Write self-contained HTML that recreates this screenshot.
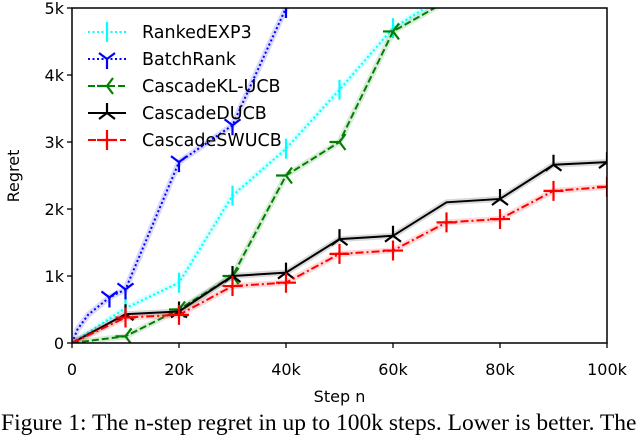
<!DOCTYPE html>
<html><head><meta charset="utf-8">
<style>
body{margin:0;background:#fff;width:640px;height:430px;overflow:hidden;position:relative}
svg{position:absolute;left:0;top:0}
text{font-family:"DejaVu Sans","Liberation Sans",sans-serif}
.cap{position:absolute;left:1px;top:408px;font-family:"Liberation Serif",serif;font-size:23.5px;line-height:30px;white-space:nowrap;color:#000}
</style></head>
<body>
<svg id="chart" width="640" height="430"></svg>
<div class="cap">Figure 1: The n-step regret in up to 100k steps. Lower is better. The</div>
<script>
const xTicks=[0,20,40,60,80,100];
const xTickLabels=["0","20k","40k","60k","80k","100k"];
const yTicks=[0,1,2,3,4,5];
const yTickLabels=["0","1k","2k","3k","4k","5k"];
const seriesNames=["RankedEXP3","BatchRank","CascadeKL-UCB","CascadeDUCB","CascadeSWUCB"];
const rankedX=[0,10,20,30,40,50,60,70];
const rankedY=[0,0.52,0.9,2.2,2.9,3.78,4.7,5.2];
const batchX=[0,1,3,5,7,10,20,30,40,45];
const batchY=[0,0.2,0.42,0.55,0.68,0.8,2.7,3.25,5.0,5.6];
const klX=[0,10,20,30,40,50,60,70];
const klY=[0,0.1,0.5,1.0,2.5,3.0,4.65,5.1];
const ducbX=[0,10,20,30,40,50,60,70,80,90,100];
const ducbY=[0,0.43,0.47,1.0,1.05,1.55,1.6,2.1,2.15,2.66,2.7];
const swX=[0,10,20,30,40,50,60,70,80,90,100];
const swY=[0,0.38,0.42,0.85,0.9,1.33,1.38,1.8,1.85,2.27,2.33];
const rankedM=[10,20,30,40,50,60];
const batchM=[7,10,20,30,40];
const klM=[10,20,30,40,50,60];
const ducbM=[10,20,30,40,50,60,80,90,100];
const swM=[10,20,30,40,50,60,70,80,90,100];

const L=72,R=607,T=8,B=343;
const sx=v=>L+(R-L)*v/100;
const sy=v=>B-(B-T)*v/5;
const NS="http://www.w3.org/2000/svg";
const svg=document.getElementById('chart');
function mk(tag,attrs,parent){const e=document.createElementNS(NS,tag);for(const k in attrs)e.setAttribute(k,attrs[k]);(parent||svg).appendChild(e);return e;}
const defs=mk('defs',{});
const cp=mk('clipPath',{id:'clip'},defs);
mk('rect',{x:L,y:T,width:R-L,height:B-T},cp);
const plot=mk('g',{'clip-path':'url(#clip)'});



const styles=[
 {c:'#00ffff',d:'2,2.5',xs:rankedX,ys:rankedY,m:rankedM,mk:'vbar',name:'rankedexp3'},
 {c:'#0000ff',d:'2,2.5',xs:batchX,ys:batchY,m:batchM,mk:'tri_down',name:'batchrank'},
 {c:'#008000',d:'7,3',xs:klX,ys:klY,m:klM,mk:'tri_left',name:'cascadekl-ucb'},
 {c:'#000000',d:'',xs:ducbX,ys:ducbY,m:ducbM,mk:'tri_up',name:'cascadeducb'},
 {c:'#ff0000',d:'8,3,2,3',xs:swX,ys:swY,m:swM,mk:'plus',name:'cascadeswucb'}
];
function interp(xs,ys,x){for(let i=0;i<xs.length-1;i++){if(x>=xs[i]&&x<=xs[i+1]){return ys[i]+(ys[i+1]-ys[i])*(x-xs[i])/(xs[i+1]-xs[i]);}}return ys[ys.length-1];}
function marker(type,x,y,c,g){
 const s=10;let d='';
 if(type==='vbar')d=`M${x},${y-s}L${x},${y+s}`;
 if(type==='plus')d=`M${x-s},${y}L${x+s},${y}M${x},${y-s}L${x},${y+s}`;
 if(type==='tri_down')d=`M${x},${y}L${x},${y+s}M${x},${y}L${x-8},${y-6}M${x},${y}L${x+8},${y-6}`;
 if(type==='tri_up')d=`M${x},${y}L${x},${y-s}M${x},${y}L${x-8},${y+6}M${x},${y}L${x+8},${y+6}`;
 if(type==='tri_left')d=`M${x},${y}L${x-s},${y}M${x},${y}L${x+6},${y-8}M${x},${y}L${x+6},${y+8}`;
 const p=mk('path',{d:d,stroke:c,'stroke-width':2.2,fill:'none'},g);
 
 
}
styles.forEach(s=>{
 const g=mk('g',{},plot);
 
 
 const pts=s.xs.map((x,i)=>sx(x)+','+sy(s.ys[i])).join(' ');
 const band=mk('polyline',{points:pts,stroke:s.c,'stroke-opacity':0.15,'stroke-width':6,fill:'none'},g);
 
 
 const ln=mk('polyline',{points:pts,stroke:s.c,'stroke-width':2,fill:'none','stroke-dasharray':s.d},g);
 
 
 s.m.forEach(x=>marker(s.mk,sx(x),sy(interp(s.xs,s.ys,x)),s.c,g));
});

const fr=mk('rect',{x:L,y:T,width:R-L,height:B-T,fill:'none',stroke:'#000','stroke-width':1.5});


xTicks.forEach((v,i)=>{
 const t=mk('line',{x1:sx(v),x2:sx(v),y1:B,y2:B+5,stroke:'#000','stroke-width':1.3});
 
 
 const tx=mk('text',{x:sx(v),y:B+32,'text-anchor':'middle','font-size':16});
 tx.textContent=xTickLabels[i];
 
 
});
yTicks.forEach((v,i)=>{
 const t=mk('line',{x1:L-5,x2:L,y1:sy(v),y2:sy(v),stroke:'#000','stroke-width':1.3});
 
 
 const tx=mk('text',{x:L-8,y:sy(v)+6,'text-anchor':'end','font-size':16});
 tx.textContent=yTickLabels[i];
 
 
});
const xl=mk('text',{x:(L+R)/2,y:402,'text-anchor':'middle','font-size':16});
xl.textContent='Step n';


const yl=mk('text',{x:19,y:176,'text-anchor':'middle','font-size':16,transform:'rotate(-90 19 176)'});
yl.textContent='Regret';



const lg=mk('g',{});


styles.forEach((s,i)=>{
 const y=32+i*27;
 const e=mk('g',{},lg);
 
 
 mk('line',{x1:88,x2:126,y1:y,y2:y,stroke:s.c,'stroke-width':2,'stroke-dasharray':s.d},e);
 marker(s.mk,107,y,s.c,e);
 const t=mk('text',{x:142,y:y+6,'font-size':17.5},e);
 t.textContent=seriesNames[i];
});
</script>
</body></html>
